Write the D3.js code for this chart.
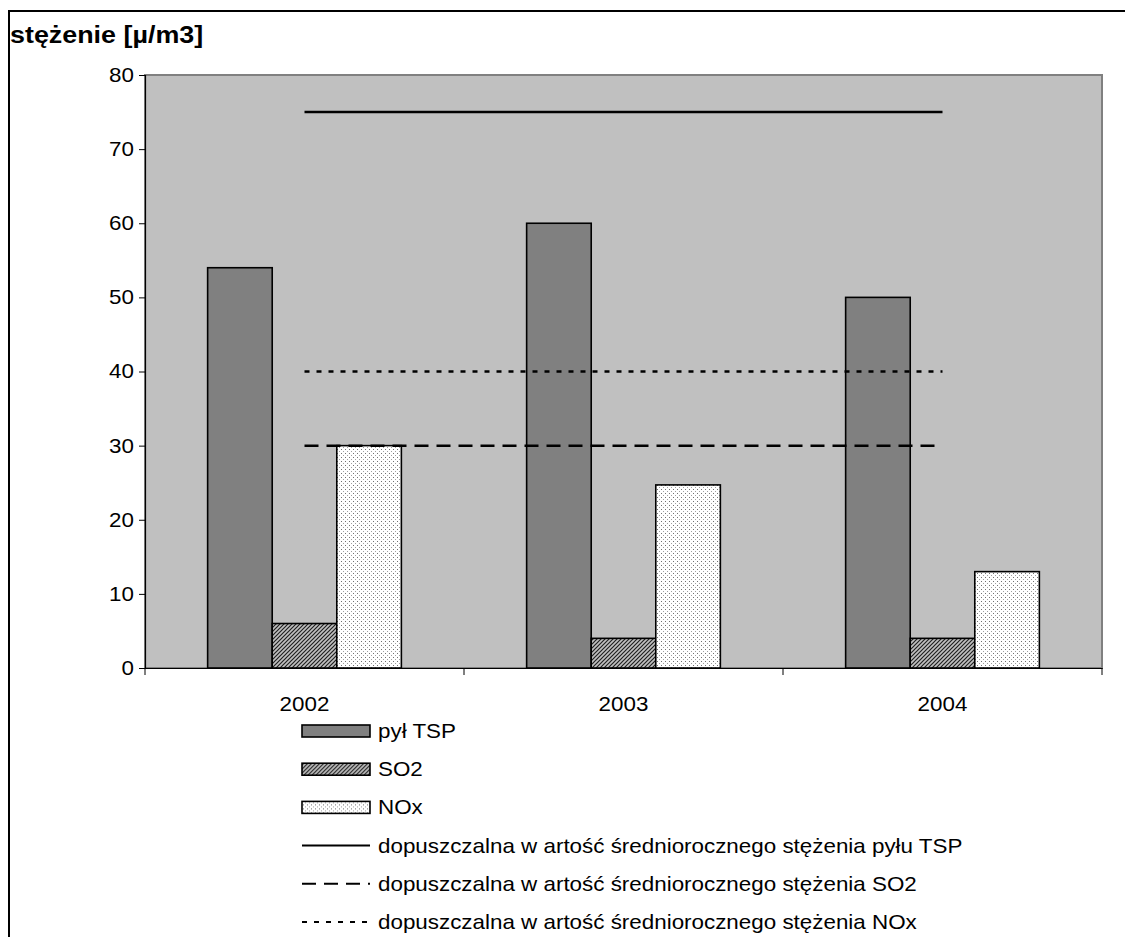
<!DOCTYPE html>
<html>
<head>
<meta charset="utf-8">
<script src="https://cdn.jsdelivr.net/npm/d3@7"></script>
<style>
  body { margin: 0; background: #fff; }
  text { font-family: "Liberation Sans", Arial, sans-serif; fill: #000; }
</style>
</head>
<body>
<svg id="chart" width="1125" height="937"></svg>
<script>
// data
const years = ["2002", "2003", "2004"];
const seriesNames = ["pył TSP", "SO2", "NOx"];
const tsp = [54, 60, 50];
const so2 = [6, 4, 4];
const nox = [30, 24.7, 13];
const limitNames = [
  "dopuszczalna w artość średniorocznego stężenia pyłu TSP",
  "dopuszczalna w artość średniorocznego stężenia SO2",
  "dopuszczalna w artość średniorocznego stężenia NOx"
];
const limits = [75, 30, 40];
const yTicks = [0, 10, 20, 30, 40, 50, 60, 70, 80];

const svg = d3.select("#chart");
const fills = ["#808080", "url(#hatch)", "url(#dots)"];
const dashes = [null, "14,8", "5,7"];
const stretch = 1.12; // the original text is a bit wide

// patterns
const defs = svg.append("defs");
const hatch = defs.append("pattern").attr("id", "hatch")
  .attr("patternUnits", "userSpaceOnUse").attr("width", 4).attr("height", 4);
hatch.append("rect").attr("width", 4).attr("height", 4).attr("fill", "#c0c0c0");
hatch.append("path").attr("d", "M-1,1 l2,-2 M0,4 l4,-4 M3,5 l2,-2")
  .attr("stroke", "#202020").attr("stroke-width", 1.2);

const dots = defs.append("pattern").attr("id", "dots")
  .attr("patternUnits", "userSpaceOnUse").attr("width", 4).attr("height", 4);
dots.append("rect").attr("width", 4).attr("height", 4).attr("fill", "#ffffff");
dots.append("rect").attr("x", 1).attr("y", 1).attr("width", 1).attr("height", 1).attr("fill", "#707070");
dots.append("rect").attr("x", 3).attr("y", 3).attr("width", 1).attr("height", 1).attr("fill", "#a0a0a0");

// outer frame
svg.append("rect").attr("x", 9).attr("y", 11).attr("width", 1130).attr("height", 940)
  .attr("fill", "none").attr("stroke", "#000").attr("stroke-width", 2);

// title
svg.append("text").attr("transform", `translate(10,43) scale(${stretch},1)`)
  .style("font-size", "24px").style("font-weight", "bold")
  .text("stężenie [µ/m3]");

const plot = { left: 145, right: 1102, top: 75, bottom: 668 };

const x = d3.scaleBand().domain(years).range([plot.left, plot.right]);
const xs = d3.scaleBand().domain(seriesNames).range([0, x.bandwidth()])
  .paddingOuter(0.97).paddingInner(0);
const y = d3.scaleLinear().domain([0, 80]).range([plot.bottom, plot.top]);

// plot area
svg.append("rect").attr("x", plot.left).attr("y", plot.top)
  .attr("width", plot.right - plot.left).attr("height", plot.bottom - plot.top)
  .attr("fill", "#c0c0c0").attr("stroke", "#808080").attr("stroke-width", 2);

// bars
const series = [tsp, so2, nox];
series.forEach((vals, si) => {
  svg.append("g").selectAll("rect")
    .data(vals)
    .join("rect")
    .attr("x", (d, i) => x(years[i]) + xs(seriesNames[si]))
    .attr("y", d => y(d))
    .attr("width", xs.bandwidth())
    .attr("height", d => y(0) - y(d))
    .attr("fill", fills[si])
    .attr("stroke", "#000")
    .attr("stroke-width", 1.6);
});

// limit lines, from first category centre to last
limits.forEach((v, li) => {
  svg.append("line")
    .attr("x1", x(years[0]) + x.bandwidth() / 2)
    .attr("x2", x(years[years.length - 1]) + x.bandwidth() / 2)
    .attr("y1", y(v)).attr("y2", y(v))
    .attr("stroke", "#000").attr("stroke-width", 2.5)
    .attr("stroke-dasharray", dashes[li]);
});

// y axis
const yAxis = svg.append("g").attr("transform", `translate(${plot.left},0)`)
  .call(d3.axisLeft(y).tickValues(yTicks).tickSize(6).tickPadding(0));
yAxis.select(".domain").attr("stroke", "#000").attr("stroke-width", 1.2);
yAxis.selectAll(".tick line").attr("stroke", "#000");
yAxis.selectAll("text").style("font-size", "20px").attr("font-family", null)
  .attr("x", null)
  .attr("transform", `translate(-11,0) scale(${stretch},1)`);

// x axis
const xAxis = svg.append("g").attr("transform", `translate(0,${plot.bottom})`)
  .call(d3.axisBottom(x).tickSize(0).tickPadding(29));
xAxis.select(".domain").attr("stroke", "#000").attr("stroke-width", 1.2);
xAxis.selectAll("text").style("font-size", "20px").attr("font-family", null)
  .attr("transform", `scale(${stretch},1)`);
// category boundary ticks
svg.append("g").selectAll("line")
  .data(years.concat(["end"]))
  .join("line")
  .attr("x1", (d, i) => i < years.length ? x(d) : x(years[years.length - 1]) + x.bandwidth())
  .attr("x2", (d, i) => i < years.length ? x(d) : x(years[years.length - 1]) + x.bandwidth())
  .attr("y1", plot.bottom).attr("y2", plot.bottom + 7)
  .attr("stroke", "#000").attr("stroke-width", 1);

// legend
const lg = svg.append("g").attr("transform", "translate(302,731)");
const rowH = 38.2;
seriesNames.forEach((name, i) => {
  const r = lg.append("g").attr("transform", `translate(0,${i * rowH})`);
  r.append("rect").attr("x", 0).attr("y", -6).attr("width", 68).attr("height", 12)
    .attr("fill", fills[i]).attr("stroke", "#000").attr("stroke-width", 1.6);
  r.append("text").attr("transform", `translate(76,7) scale(${stretch},1)`)
    .style("font-size", "20px").text(name);
});
limitNames.forEach((name, i) => {
  const r = lg.append("g").attr("transform", `translate(0,${(i + 3) * rowH})`);
  r.append("line").attr("x1", 0).attr("x2", 68).attr("y1", 0).attr("y2", 0)
    .attr("stroke", "#000").attr("stroke-width", 2)
    .attr("stroke-dasharray", dashes[i]);
  r.append("text").attr("transform", `translate(76,7) scale(${stretch},1)`)
    .style("font-size", "20px").text(name);
});
</script>
</body>
</html>
